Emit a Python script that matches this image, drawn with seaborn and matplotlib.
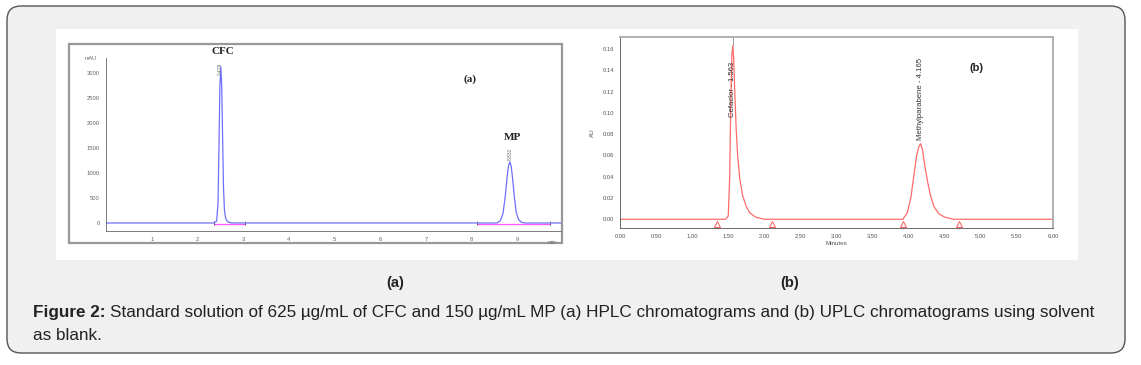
# plot.py
# Figure 2: HPLC (a) and UPLC (b) chromatograms of CFC and MP

import matplotlib
matplotlib.use("Agg")
import matplotlib.pyplot as plt
from matplotlib.patches import FancyBboxPatch, Rectangle
from matplotlib.ticker import MultipleLocator
import pandas as pd
import seaborn as sns

W, H = 1141, 365

# (a) HPLC trace, time in min, signal in mAU
hplc_time = [0.0, 2.36, 2.42, 2.45, 2.47, 2.49, 2.51, 2.53, 2.55, 2.57, 2.59, 2.62,
             2.66, 2.72, 2.80, 8.55, 8.62, 8.68, 8.73, 8.77, 8.80, 8.83, 8.86, 8.89,
             8.93, 8.97, 9.02, 9.08, 9.15, 9.95]
hplc_mau = [0, 0, 40, 400, 1500, 2700, 3110, 2750, 1700, 700, 250, 80,
            25, 5, 0, 0, 40, 180, 520, 900, 1130, 1220, 1140, 900,
            520, 220, 70, 15, 0, 0]
hplc_base = [(2.36, 3.05), (8.12, 9.72)]   # integration baselines
hplc_peaks = [("CFC", "2.479", 2.50), ("MP", "8.832", 8.83)]
hplc_name_y = [3320, 1620]
hplc_rt_y = [2950, 1260]

# (b) UPLC trace, time in minutes, signal in AU
uplc_time = [0.0, 1.46, 1.50, 1.52, 1.535, 1.55, 1.563, 1.575, 1.59, 1.61, 1.63,
             1.66, 1.70, 1.75, 1.80, 1.88, 2.00, 3.92, 3.98, 4.03, 4.07, 4.11,
             4.14, 4.165, 4.19, 4.22, 4.26, 4.30, 4.35, 4.42, 4.50, 4.62, 6.0]
uplc_au = [0.0, 0.0, 0.003, 0.04, 0.11, 0.155, 0.163, 0.152, 0.12, 0.085, 0.06,
           0.038, 0.022, 0.012, 0.006, 0.002, 0.0, 0.0, 0.006, 0.02, 0.04, 0.06,
           0.068, 0.071, 0.066, 0.052, 0.036, 0.023, 0.012, 0.005, 0.002, 0.0, 0.0]
uplc_marks = [1.35, 2.10, 3.92, 4.70]
uplc_peaks = [("Cefaclor - 1.563", 1.563, 0.096), ("Methylparabene - 4.165", 4.165, 0.0745)]

hplc = pd.DataFrame({"time": hplc_time, "signal": hplc_mau})
uplc = pd.DataFrame({"time": uplc_time, "signal": uplc_au})

sns.set_style("white")
plt.rcParams["font.family"] = ["Liberation Sans", "DejaVu Sans"]


def px_axes(fig, left, top, right, bottom, **kw):
    return fig.add_axes([left / W, 1 - bottom / H, (right - left) / W, (bottom - top) / H], **kw)


fig = plt.figure(figsize=(W / 100, H / 100), dpi=100, facecolor="white")
bg = fig.add_axes([0, 0, 1, 1])
bg.set_xlim(0, W)
bg.set_ylim(H, 0)
bg.axis("off")
bg.add_patch(FancyBboxPatch((7, 6), 1118, 347, boxstyle="round,pad=0,rounding_size=14",
                            facecolor="#f0f0f0", edgecolor="#555555", lw=1.0))
bg.add_patch(Rectangle((56, 29), 1022, 231, facecolor="white", edgecolor="none"))
# frame around panel (a)
bg.add_patch(Rectangle((69, 44), 493, 199, facecolor="none", edgecolor="#999999", lw=1.6))

# ---------- panel (a) ----------
ax = px_axes(fig, 106, 58, 561, 231)
ax.patch.set_alpha(0)
for t0, t1 in hplc_base:
    ax.plot([t0, t1], [-20, -20], color="#ff55ff", lw=0.9)
    ax.plot([t0, t1], [0, 0], ls="none", marker="|", ms=2.5, color="#555555", mew=0.6)
sns.lineplot(data=hplc, x="time", y="signal", ax=ax, color="#6f6fff", lw=0.9)
ax.set_xlim(0, 9.95)
ax.set_ylim(-160, 3290)
ax.xaxis.set_minor_locator(MultipleLocator(0.2))
ax.yaxis.set_minor_locator(MultipleLocator(100))
ax.set_xticks(range(1, 10))
ax.set_yticks(range(0, 3001, 500))
ax.tick_params(which="both", direction="out", labelsize=4.2, labelcolor="#666666",
               color="#666666", width=0.5, pad=1.5)
ax.tick_params(which="major", length=2.5)
ax.tick_params(which="minor", length=1.3)
ax.tick_params(axis="y", pad=2)
for s in ["top", "right"]:
    ax.spines[s].set_visible(False)
for s in ["left", "bottom"]:
    ax.spines[s].set_color("#666666")
    ax.spines[s].set_linewidth(0.6)
ax.set_xlabel("")
ax.set_ylabel("")
ax.text(-0.02, 1.0, "mAU", transform=ax.transAxes, ha="right", va="center",
        fontsize=4, color="#666666")
ax.text(0.99, -0.05, "min", transform=ax.transAxes, ha="right", va="top",
        fontsize=4, color="#666666")
for (name, rt, t), ny, ry in zip(hplc_peaks, hplc_name_y, hplc_rt_y):
    ax.text(t, ry, rt, rotation=90, ha="center", va="bottom", fontsize=3.5,
            color="#666666")
    ax.text(t + 0.05, ny, name, ha="center", va="bottom", fontsize=8,
            fontweight="bold", family=["Liberation Serif", "DejaVu Serif"], color="#222222")
ax.text(0.80, 0.88, "(a)", transform=ax.transAxes, ha="center", va="center",
        fontsize=8, fontweight="bold", family=["Liberation Serif", "DejaVu Serif"],
        color="#222222")

# ---------- panel (b) ----------
bx = px_axes(fig, 620, 37, 1053, 228)
sns.lineplot(data=uplc, x="time", y="signal", ax=bx, color="#ff6b6b", lw=0.9)
bx.plot(uplc_marks, [-0.004] * len(uplc_marks), ls="none", marker="^", ms=4,
        mfc="none", mec="#ff5a5a", mew=0.7)
bx.set_xlim(0, 6)
bx.set_ylim(-0.0082, 0.1713)
bx.xaxis.set_minor_locator(MultipleLocator(0.1))
bx.yaxis.set_minor_locator(MultipleLocator(0.005))
bx.set_xticks([i * 0.5 for i in range(13)])
bx.set_xticklabels([f"{i * 0.5:.2f}" for i in range(13)])
bx.set_yticks([i * 0.02 for i in range(9)])
bx.set_yticklabels([f"{i * 0.02:.2f}" for i in range(9)])
bx.tick_params(which="both", direction="out", labelsize=4.2, labelcolor="#555555",
               color="#555555", width=0.5, pad=1.5)
bx.tick_params(which="major", length=2.5)
bx.tick_params(which="minor", length=1.3)
for s in ["top", "right"]:
    bx.spines[s].set_color("#aaaaaa")
    bx.spines[s].set_linewidth(1.3)
for s in ["left", "bottom"]:
    bx.spines[s].set_color("#555555")
    bx.spines[s].set_linewidth(0.6)
bx.set_xlabel("Minutes", fontsize=4.5, color="#555555", labelpad=1.5)
bx.set_ylabel("AU", fontsize=4.5, color="#555555", labelpad=6)
bx.vlines(uplc_peaks[0][1], 0.163, 0.1713, color="#999999", lw=0.7)
for label, t, yb in uplc_peaks:
    bx.text(t, yb, label, rotation=90, ha="center", va="bottom", fontsize=5.6,
            color="#333333")
bx.text(0.824, 0.84, "(b)", transform=bx.transAxes, ha="center", va="center",
        fontsize=8, fontweight="bold", color="#222222")

# ---------- captions ----------
bg.text(395, 283, "(a)", ha="center", va="center", fontsize=10.5, fontweight="bold",
        color="#222222")
bg.text(790, 283, "(b)", ha="center", va="center", fontsize=10.5, fontweight="bold",
        color="#222222")
cap_size = 12.3
head = bg.text(33, 313, "Figure 2:", ha="left", va="center", fontsize=cap_size,
               fontweight="bold", color="#222222")
fig.canvas.draw()
ext = head.get_window_extent(renderer=fig.canvas.get_renderer())
bg.text(ext.x1 + 4, 313, "Standard solution of 625 \u00b5g/mL of CFC and 150 \u00b5g/mL MP (a) "
        "HPLC chromatograms and (b) UPLC chromatograms using solvent",
        ha="left", va="center", fontsize=cap_size, color="#222222")
bg.text(33, 335, "as blank.", ha="left", va="center", fontsize=cap_size, color="#222222")

fig.savefig("out.png", dpi=100, facecolor="white")
